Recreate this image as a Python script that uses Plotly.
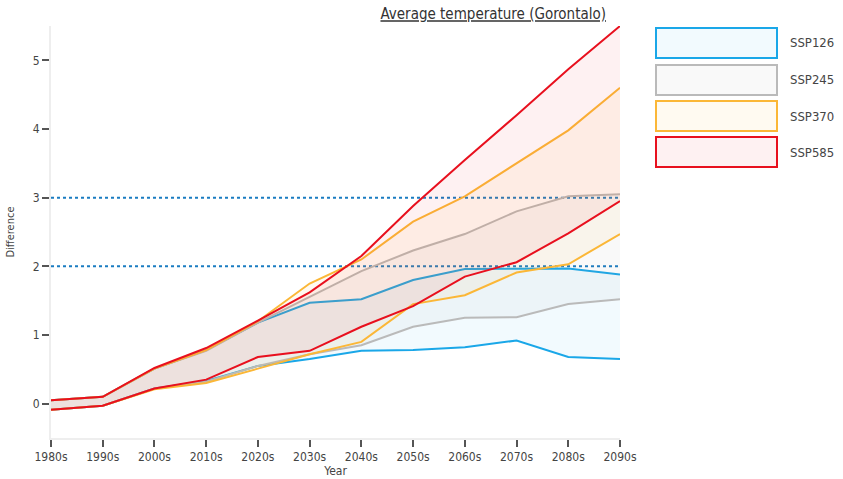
import plotly.graph_objects as go

decades = ['1980s', '1990s', '2000s', '2010s', '2020s', '2030s',
           '2040s', '2050s', '2060s', '2070s', '2080s', '2090s']
scenarios = ['SSP126', 'SSP245', 'SSP370', 'SSP585']

lower_126 = [-0.09, -0.03, 0.22, 0.33, 0.55, 0.65, 0.77, 0.78, 0.82, 0.92, 0.68, 0.65]
upper_126 = [0.05, 0.10, 0.51, 0.78, 1.18, 1.47, 1.52, 1.80, 1.96, 1.96, 1.97, 1.88]
lower_245 = [-0.09, -0.03, 0.22, 0.32, 0.55, 0.72, 0.85, 1.12, 1.25, 1.26, 1.45, 1.52]
upper_245 = [0.05, 0.10, 0.51, 0.77, 1.18, 1.55, 1.93, 2.23, 2.47, 2.80, 3.02, 3.05]
lower_370 = [-0.09, -0.03, 0.21, 0.30, 0.51, 0.72, 0.90, 1.45, 1.58, 1.91, 2.03, 2.47]
upper_370 = [0.05, 0.10, 0.51, 0.78, 1.20, 1.75, 2.10, 2.65, 3.02, 3.50, 3.98, 4.60]
lower_585 = [-0.09, -0.03, 0.22, 0.35, 0.68, 0.77, 1.12, 1.42, 1.85, 2.06, 2.48, 2.95]
upper_585 = [0.05, 0.10, 0.52, 0.81, 1.21, 1.62, 2.15, 2.88, 3.55, 4.20, 4.87, 5.50]

lowers = [lower_126, lower_245, lower_370, lower_585]
uppers = [upper_126, upper_245, upper_370, upper_585]
line_colors = ['#1aa7e8', '#bababa', '#fbb737', '#e8101e']
fill_colors = ['rgba(26,167,232,0.06)', 'rgba(150,150,150,0.06)',
               'rgba(251,183,55,0.07)', 'rgba(232,16,30,0.06)']

FONT = 'DejaVu Sans Condensed, Roboto, sans-serif'

fig = go.Figure()
for name, lo, up, lc, fc in zip(scenarios, lowers, uppers, line_colors, fill_colors):
    fig.add_trace(go.Scatter(x=decades, y=lo, mode='lines', name=name,
                             line=dict(color=lc, width=2), showlegend=False))
    fig.add_trace(go.Scatter(x=decades, y=up, mode='lines', name=name,
                             line=dict(color=lc, width=2), fill='tonexty',
                             fillcolor=fc, showlegend=False))

# dotted reference lines
for level in [2, 3]:
    fig.add_shape(type='line', xref='x', yref='y', x0=0, x1=11, y0=level, y1=level,
                  line=dict(color='#1a7cc1', width=2, dash='dot'), layer='below')

# custom legend boxes (pixel positions converted to paper coords)
px_w, px_h = 843, 479
ml, mr, mt, mb = 51, 223, 26, 41
pw, ph = px_w - ml - mr, px_h - mt - mb

def px_x(x):
    return (x - ml) / pw

def px_y(y):
    return 1 - (y - mt) / ph

box_tops = [28, 65, 101, 137]
for name, top, lc, fc in zip(scenarios, box_tops, line_colors, fill_colors):
    fig.add_shape(type='rect', xref='paper', yref='paper',
                  x0=px_x(656), x1=px_x(777), y0=px_y(top), y1=px_y(top + 30),
                  line=dict(color=lc, width=2), fillcolor=fc)
    fig.add_annotation(xref='paper', yref='paper', x=px_x(788), y=px_y(top + 15),
                       text=name, showarrow=False, xanchor='left', yanchor='middle',
                       font=dict(size=13, color='#444', family=FONT))

fig.update_layout(
    width=843, height=479,
    margin=dict(l=ml, r=mr, t=mt, b=mb),
    paper_bgcolor='white', plot_bgcolor='white',
    font=dict(family=FONT, color='#444', size=11),
    title=dict(text='<u>Average temperature (Gorontalo)</u>', x=606 / px_w,
               xanchor='right', y=1 - 14 / px_h, yanchor='middle',
               font=dict(size=15, color='#333', family=FONT)),
    xaxis=dict(range=[0, 11], showgrid=False, zeroline=False, automargin=False,
               showline=True, linecolor='#eeeeee', linewidth=2,
               ticks='outside', ticklen=7, tickcolor='#555', tickwidth=2,
               title=dict(text='Year', standoff=3, font=dict(size=12)),
               tickfont=dict(size=12)),
    yaxis=dict(range=[-0.5, 5.5], showgrid=False, zeroline=False, automargin=False,
               showline=True, linecolor='#eeeeee', linewidth=2,
               ticks='outside', ticklen=7, tickcolor='#555', tickwidth=2,
               tickvals=[0, 1, 2, 3, 4, 5],
               title=dict(text='Difference', standoff=16, font=dict(size=11)),
               tickfont=dict(size=12)),
)

fig.write_html('out.html', config={'displayModeBar': False},
               post_script="document.body.style.margin='0';")
